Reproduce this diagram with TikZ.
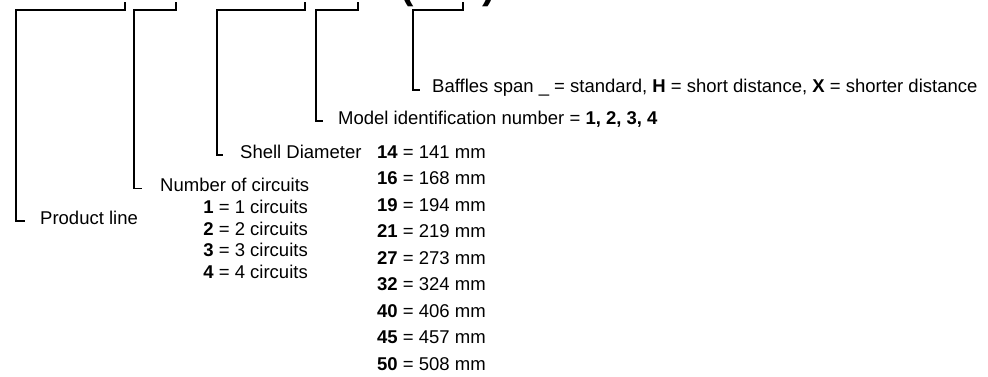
\documentclass[tikz,border=0pt]{standalone}
\usepackage{fontspec}
\setmainfont{Liberation Sans}
\tikzset{
    code/.style={anchor=base west, inner sep=0pt, font=\fontsize{18.5}{21}\selectfont},
    coderight/.style={anchor=base east, inner sep=0pt, font=\fontsize{18.5}{21}\selectfont},
    bracket/.style={line width=1.8pt, black},
}
\begin{document}
\begin{tikzpicture}[x=1pt, y=-1pt]
        % Page frame
        \useasboundingbox (0,0) rectangle (988,376);
        \clip (0,0) rectangle (988,376);
        
        % Heading (only its lower edge shows)
        \node[anchor=base, inner sep=0pt, font=\fontsize{40}{40}\selectfont\bfseries] (lparen) at (407,-2) {(};
        \node[anchor=base, inner sep=0pt, font=\fontsize{40}{40}\selectfont\bfseries] (rparen) at (489,-2) {)};
        
        % Define bracket corners under the heading
        \coordinate (T1) at (16,10);   \coordinate (R1) at (125,2);
        \coordinate (T2) at (134,10);  \coordinate (R2) at (176,2);
        \coordinate (T3) at (217,10);  \coordinate (R3) at (305,2);
        \coordinate (T4) at (316,10);  \coordinate (R4) at (358,2);
        \coordinate (T5) at (413,10);  \coordinate (R5) at (463,2);
        
        % Labels
        \node[code] (product) at (40,224) {Product line};
        \node[code] (circuits) at (160,191.5) {Number of circuits};
        \node[code] (shell) at (240,158.3) {Shell Diameter};
        \node[code] (model) at (338,124.3) {Model identification number = \textbf{1, 2, 3, 4}};
        \node[code] (baffles) at (432,92.7) {Baffles span \_ = standard, \textbf{H} = short distance, \textbf{X} = shorter distance};
        
        % Circuit values
        \node[coderight] (c1) at (308,213.5) {\textbf{1} = 1 circuits};
        \node[coderight] (c2) at (308,235.2) {\textbf{2} = 2 circuits};
        \node[coderight] (c3) at (308,256.9) {\textbf{3} = 3 circuits};
        \node[coderight] (c4) at (308,278.6) {\textbf{4} = 4 circuits};
        
        % Diameter values
        \node[code] (d14) at (377,158.3) {\textbf{14} = 141 mm};
        \node[code] (d16) at (377,184.8) {\textbf{16} = 168 mm};
        \node[code] (d19) at (377,211.3) {\textbf{19} = 194 mm};
        \node[code] (d21) at (377,237.8) {\textbf{21} = 219 mm};
        \node[code] (d27) at (377,264.3) {\textbf{27} = 273 mm};
        \node[code] (d32) at (377,290.8) {\textbf{32} = 324 mm};
        \node[code] (d40) at (377,317.3) {\textbf{40} = 406 mm};
        \node[code] (d45) at (377,343.8) {\textbf{45} = 457 mm};
        \node[code] (d50) at (377,370.3) {\textbf{50} = 508 mm};
        
        % Draw brackets down to their labels
        \draw[bracket] (R1) |- (T1) |- ([xshift=-15pt, yshift=3pt]product.base west);
        \draw[bracket] (R2) |- (T2) |- ([xshift=-18pt, yshift=3pt]circuits.base west);
        \draw[bracket] (R3) |- (T3) |- ([xshift=-17pt, yshift=3pt]shell.base west);
        \draw[bracket] (R4) |- (T4) |- ([xshift=-15pt, yshift=3pt]model.base west);
        \draw[bracket] (R5) |- (T5) |- ([xshift=-12pt, yshift=3pt]baffles.base west);
    \end{tikzpicture}
\end{document}
